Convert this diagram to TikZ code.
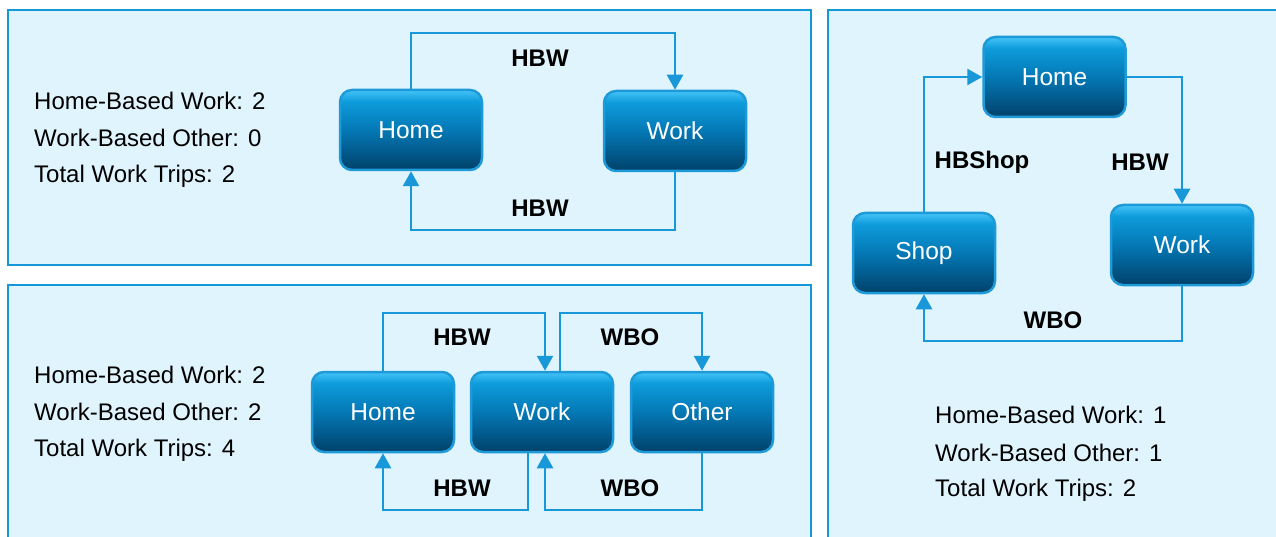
\documentclass[tikz,border=0pt]{standalone}
\usepackage{fontspec}
\setmainfont{Liberation Sans}
\usetikzlibrary{arrows.meta,calc}
\definecolor{panelfill}{HTML}{E0F4FD}
\definecolor{panelline}{HTML}{1598D8}
\definecolor{nodeline}{HTML}{1E9AD8}
\definecolor{conncol}{HTML}{1898D8}
\definecolor{ntop}{HTML}{45C3F7}
\definecolor{nupper}{HTML}{0E9CDC}
\definecolor{nmid}{HTML}{0478B5}
\definecolor{nbot}{HTML}{00416A}
\pgfdeclareverticalshading{boxshade}{100bp}{color(0bp)=(nbot); color(25bp)=(nbot); color(50bp)=(nmid); color(68bp)=(nupper); color(75bp)=(ntop); color(100bp)=(ntop)}
\tikzset{
  panel/.style={fill=panelfill, draw=panelline, line width=2.5pt},
  tripbox/.style={rounded corners=12pt, minimum width=142pt, minimum height=80pt,
    draw=nodeline, line width=2.5pt, shading=boxshade, text=white,
    font=\fontsize{24.5}{28}\selectfont, inner sep=0pt},
  conn/.style={draw=conncol, line width=2.6pt, -{Triangle[length=15pt,width=16pt]}},
  lbl/.style={font=\fontsize{24}{28}\selectfont\bfseries, text=black, inner sep=0pt},
  info/.style={font=\fontsize{24}{28}\selectfont, text=black, anchor=west, inner sep=0pt}
}
\begin{document}
\begin{tikzpicture}[x=1pt,y=-1pt]
\clip (0,0) rectangle (1276,537);
\fill[white] (0,0) rectangle (1276,537);
% panels
\draw[panel] (8,10) rectangle (811,265);
\draw[panel] (8,285) rectangle (811,560);
\draw[panel] (828,10) rectangle (1300,560);

% panel 1
\node[info] (p1a) at (34,101) {Home-Based Work: 2};
\node[info] (p1b) at (34,138) {Work-Based Other: 0};
\node[info] (p1c) at (34,176) {Total Work Trips: 2};
\node[tripbox] (h1) at (411,130) {Home};
\node[tripbox] (w1) at (675,131) {Work};
\coordinate (t1) at (0,33);
\coordinate (b1) at (0,230);
\draw[conn] (h1.north) -- (h1.north |- t1) -| (w1.north);
\draw[conn] (w1.south) -- (w1.south |- b1) -| (h1.south);
\node[lbl] (l1a) at (540,58) {HBW};
\node[lbl] (l1b) at (540,208) {HBW};

% panel 2
\node[info] (p2a) at (34,375) {Home-Based Work: 2};
\node[info] (p2b) at (34,412) {Work-Based Other: 2};
\node[info] (p2c) at (34,450) {Total Work Trips: 4};
\node[tripbox] (h2) at (383,412) {Home};
\node[tripbox] (w2) at (542,412) {Work};
\node[tripbox] (o2) at (702,412) {Other};
\coordinate (t2) at (0,313);
\coordinate (b2) at (0,510);
\coordinate (w2in) at ($(w2.north)+(3,0)$);
\coordinate (w2out) at ($(w2.north)+(18,0)$);
\coordinate (w2bin) at ($(w2.south)+(3,0)$);
\coordinate (w2bout) at ($(w2.south)+(-14,0)$);
\draw[conn] (h2.north) -- (h2.north |- t2) -| (w2in);
\draw[conn] (w2out) -- (w2out |- t2) -| (o2.north);
\draw[conn] (w2bout) -- (w2bout |- b2) -| (h2.south);
\draw[conn] (o2.south) -- (o2.south |- b2) -| (w2bin);
\node[lbl] (l2a) at (462,337) {HBW};
\node[lbl] (l2b) at (630,337) {WBO};
\node[lbl] (l2c) at (462,488) {HBW};
\node[lbl] (l2d) at (630,488) {WBO};

% panel 3
\node[tripbox] (h3) at (1054.5,77) {Home};
\node[tripbox] (s3) at (924,253) {Shop};
\node[tripbox] (w3) at (1182,245) {Work};
\coordinate (b3) at (0,341);
\draw[conn] (s3.north) |- (h3.west);
\draw[conn] (h3.east) -| (w3.north);
\draw[conn] (w3.south) -- (w3.south |- b3) -| (s3.south);
\node[lbl] (l3a) at (982,162) {HBShop};
\node[lbl] (l3b) at (1140,162) {HBW};
\node[lbl] (l3c) at (1053,320) {WBO};
\node[info] (p3a) at (935,415) {Home-Based Work: 1};
\node[info] (p3b) at (935,453) {Work-Based Other: 1};
\node[info] (p3c) at (935,490) {Total Work Trips: 2};
\end{tikzpicture}
\end{document}
